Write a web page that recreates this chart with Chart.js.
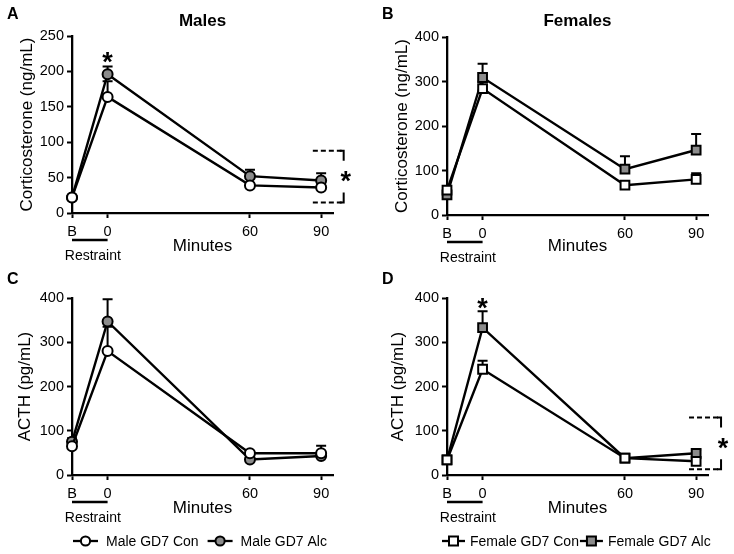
<!DOCTYPE html>
<html lang="en">
<head>
<meta charset="UTF-8">
<title>Corticosterone and ACTH after restraint</title>
<script src="https://cdn.jsdelivr.net/npm/chart.js@4.4.1/dist/chart.umd.min.js"></script>
<style>
  body { margin: 0; background: #fff; }
  #wrap { position: relative; width: 734px; height: 554px; }
  canvas { position: absolute; }
</style>
</head>
<body>
<div id="wrap">
  <canvas id="chartA" width="367" height="270" style="left:0;top:0"></canvas>
  <canvas id="chartB" width="367" height="270" style="left:367px;top:0"></canvas>
  <canvas id="chartC" width="367" height="284" style="left:0;top:270px"></canvas>
  <canvas id="chartD" width="367" height="284" style="left:367px;top:270px"></canvas>
</div>

<script>
  const FONT = 'Arial, "Liberation Sans", sans-serif';

  // time points, B = baseline before restraint
  const minutes = [-15, 0, 60, 90];
  const xTickLabels = ['B', '0', '60', '90'];
  const restraintSpan = [-15, 0];

  // corticosterone (ng/mL), males
  const maleCortCon = [22, 164, 39, 36];
  const maleCortConSem = [3, 22, 3, 3];
  const maleCortAlc = [22, 196, 52, 46];
  const maleCortAlcSem = [3, 11, 9, 10];

  // corticosterone (ng/mL), females
  const femCortCon = [56, 284, 67, 80];
  const femCortConSem = [6, 16, 8, 14];
  const femCortAlc = [45, 309, 103, 146];
  const femCortAlcSem = [5, 31, 29, 36];

  // ACTH (pg/mL), males
  const maleActhCon = [65, 280, 49, 49];
  const maleActhConSem = [10, 55, 5, 17];
  const maleActhAlc = [75, 347, 35, 43];
  const maleActhAlcSem = [8, 50, 4, 5];

  // ACTH (pg/mL), females
  const femActhCon = [34, 239, 38, 31];
  const femActhConSem = [4, 19, 4, 6];
  const femActhAlc = [34, 333, 38, 49];
  const femActhAlcSem = [5, 37, 5, 8];

  // significance marks
  const starsA = [{ x: 0, y: 220 }];
  const starsD = [{ x: 0, y: 388 }];
  const bracketA = { x0: 86.5, x1: 99.5, lo: 15, hi: 88 };
  const bracketD = { x0: 87, x1: 100.5, lo: 13, hi: 130 };

  const GREY = '#8c8c8c';

  Chart.defaults.font.family = FONT;
  Chart.defaults.color = '#000';

  function drawStar(ctx, px, py)
  {
    ctx.font = 'bold 27px ' + FONT;
    ctx.textAlign = 'center';
    ctx.textBaseline = 'alphabetic';
    const m = ctx.measureText('*');
    ctx.fillText('*', px, py + (m.actualBoundingBoxAscent - m.actualBoundingBoxDescent) / 2);
  }

  function drawMarker(ctx, style, cx, cy, fill)
  {
    ctx.beginPath();
    if (style === 'rect') ctx.rect(cx - 4.5, cy - 4.5, 9, 9);
    else ctx.arc(cx, cy, 4.6, 0, Math.PI * 2);
    ctx.fillStyle = fill;
    ctx.fill();
    ctx.lineWidth = 2;
    ctx.stroke();
  }

  const decor = {
    id: 'decor',
    beforeDatasetsDraw(chart)
    {
      const { ctx } = chart;
      const y = chart.scales.y;
      ctx.save();
      ctx.strokeStyle = '#000';
      ctx.lineWidth = 2;
      chart.data.datasets.forEach((ds, i) => {
        const meta = chart.getDatasetMeta(i);
        meta.data.forEach((pt, j) => {
          const top = y.getPixelForValue(ds.data[j].y + ds.sem[j]);
          ctx.beginPath();
          ctx.moveTo(pt.x, pt.y);
          ctx.lineTo(pt.x, top);
          ctx.moveTo(pt.x - 5, top);
          ctx.lineTo(pt.x + 5, top);
          ctx.stroke();
        });
      });
      ctx.restore();
    },
    afterDraw(chart, args, opts)
    {
      const { ctx, chartArea: a } = chart;
      const x = chart.scales.x, y = chart.scales.y;
      ctx.save();
      ctx.fillStyle = '#000';
      ctx.strokeStyle = '#000';

      // panel letter and title
      ctx.font = 'bold 16px ' + FONT;
      ctx.textAlign = 'left';
      ctx.textBaseline = 'middle';
      ctx.fillText(opts.letter, opts.letterX, opts.letterY);
      if (opts.title)
      {
        ctx.font = 'bold 17px ' + FONT;
        ctx.textAlign = 'center';
        ctx.fillText(opts.title, (a.left + a.right) / 2, 21);
      }

      // restraint bar under the axis
      const rx0 = x.getPixelForValue(restraintSpan[0]);
      const rx1 = x.getPixelForValue(restraintSpan[1]);
      ctx.lineWidth = 2.5;
      ctx.beginPath();
      ctx.moveTo(rx0, a.bottom + 27);
      ctx.lineTo(rx1, a.bottom + 27);
      ctx.stroke();
      ctx.font = '14px ' + FONT;
      ctx.textAlign = 'center';
      ctx.textBaseline = 'middle';
      ctx.fillText('Restraint', (rx0 + rx1) / 2 + 3, a.bottom + 43);

      // stars
      (opts.stars || []).forEach(s => drawStar(ctx, x.getPixelForValue(s.x), y.getPixelForValue(s.y)));

      // bracket
      const b = opts.bracket;
      if (b)
      {
        const bx0 = x.getPixelForValue(b.x0), bx1 = x.getPixelForValue(b.x1);
        const yh = y.getPixelForValue(b.hi), yl = y.getPixelForValue(b.lo);
        ctx.lineWidth = 2;
        ctx.setLineDash([5, 3]);
        ctx.beginPath();
        ctx.moveTo(bx0, yh); ctx.lineTo(bx1 - 2, yh);
        ctx.moveTo(bx0, yl); ctx.lineTo(bx1 - 2, yl);
        ctx.stroke();
        ctx.setLineDash([]);
        ctx.beginPath();
        ctx.moveTo(bx1 - 4, yh); ctx.lineTo(bx1, yh); ctx.lineTo(bx1, yh + 10);
        ctx.moveTo(bx1 - 4, yl); ctx.lineTo(bx1, yl); ctx.lineTo(bx1, yl - 10);
        ctx.stroke();
        drawStar(ctx, bx1 + 2, (yh + yl) / 2);
      }

      // legend
      const lg = opts.legend;
      if (lg)
      {
        let lx = lg.x;
        const ly = a.bottom + 66;
        chart.data.datasets.forEach(ds => {
          ctx.strokeStyle = '#000';
          ctx.lineWidth = 2.3;
          ctx.beginPath();
          ctx.moveTo(lx, ly);
          ctx.lineTo(lx + lg.lineLen, ly);
          ctx.stroke();
          drawMarker(ctx, ds.pointStyle, lx + lg.lineLen / 2, ly, ds.pointBackgroundColor);
          const tx = lx + lg.lineLen + lg.textGap;
          ctx.fillStyle = '#000';
          ctx.font = '14px ' + FONT;
          ctx.textAlign = 'left';
          ctx.textBaseline = 'middle';
          ctx.fillText(ds.label, tx, ly + 1);
          lx = tx + ctx.measureText(ds.label).width + lg.itemGap;
        });
      }
      ctx.restore();
    }
  };

  function series(label, vals, sem, style, fill)
  {
    return {
      label: label,
      data: minutes.map((m, i) => ({ x: m, y: vals[i] })),
      sem: sem,
      borderColor: '#000',
      borderWidth: 2.4,
      tension: 0,
      pointStyle: style,
      pointRadius: style === 'rect' ? 6.2 : 5,
      pointBorderWidth: 2,
      pointBorderColor: '#000',
      pointBackgroundColor: fill,
      clip: false
    };
  }

  function makeChart(id, cfg)
  {
    return new Chart(document.getElementById(id), {
      type: 'line',
      data: { datasets: cfg.datasets },
      options: {
        responsive: false,
        animation: false,
        events: [],
        layout: { padding: cfg.padding },
        scales: {
          x: {
            type: 'linear',
            min: -15,
            max: 95,
            afterBuildTicks: s => { s.ticks = minutes.map(v => ({ value: v })); },
            afterFit: s => { s.height = cfg.xHeight; },
            ticks: {
              callback: (v, i) => xTickLabels[i],
              font: { size: 14.5 },
              padding: 5,
              maxRotation: 0,
              autoSkip: false
            },
            grid: { drawOnChartArea: false, tickLength: 5, tickWidth: 2, tickColor: '#000' },
            border: { display: true, color: '#000', width: 2.3 },
            title: { display: true, text: 'Minutes', font: { size: 17 }, padding: { top: 0, bottom: 13 } }
          },
          y: {
            min: 0,
            max: cfg.yMax,
            afterFit: s => { s.width = cfg.yWidth; },
            ticks: { stepSize: cfg.yStep, font: { size: 14.5 }, padding: 3 },
            grid: { drawOnChartArea: false, tickLength: 5, tickWidth: 2, tickColor: '#000' },
            border: { display: true, color: '#000', width: 2.3 },
            title: { display: true, text: cfg.yTitle, font: { size: 17 }, padding: { top: cfg.yTitlePad, bottom: 0 } }
          }
        },
        plugins: {
          legend: { display: false },
          tooltip: { enabled: false },
          decor: cfg.decor
        }
      },
      plugins: [decor]
    });
  }

  makeChart('chartA', {
    datasets: [
      series('Male GD7 Con', maleCortCon, maleCortConSem, 'circle', '#fff'),
      series('Male GD7 Alc', maleCortAlc, maleCortAlcSem, 'circle', GREY)
    ],
    padding: { top: 36, right: 34, left: 0, bottom: 0 },
    xHeight: 57, yWidth: 72, yMax: 250, yStep: 50,
    yTitle: 'Corticosterone (ng/mL)', yTitlePad: 17,
    decor: { letter: 'A', letterX: 7, letterY: 15, title: 'Males', stars: starsA, bracket: bracketA }
  });

  makeChart('chartB', {
    datasets: [
      series('Female GD7 Con', femCortCon, femCortConSem, 'rect', '#fff'),
      series('Female GD7 Alc', femCortAlc, femCortAlcSem, 'rect', GREY)
    ],
    padding: { top: 37, right: 26, left: 0, bottom: 0 },
    xHeight: 55, yWidth: 80, yMax: 400, yStep: 100,
    yTitle: 'Corticosterone (ng/mL)', yTitlePad: 25,
    decor: { letter: 'B', letterX: 15, letterY: 15, title: 'Females' }
  });

  makeChart('chartC', {
    datasets: [
      series('Male GD7 Con', maleActhCon, maleActhConSem, 'circle', '#fff'),
      series('Male GD7 Alc', maleActhAlc, maleActhAlcSem, 'circle', GREY)
    ],
    padding: { top: 28, right: 34, left: 0, bottom: 22 },
    xHeight: 57, yWidth: 72, yMax: 400, yStep: 100,
    yTitle: 'ACTH (pg/mL)', yTitlePad: 15,
    decor: { letter: 'C', letterX: 7, letterY: 10, legend: { x: 73, lineLen: 25, textGap: 8, itemGap: 9 } }
  });

  makeChart('chartD', {
    datasets: [
      series('Female GD7 Con', femActhCon, femActhConSem, 'rect', '#fff'),
      series('Female GD7 Alc', femActhAlc, femActhAlcSem, 'rect', GREY)
    ],
    padding: { top: 28, right: 26, left: 0, bottom: 22 },
    xHeight: 57, yWidth: 80, yMax: 400, yStep: 100,
    yTitle: 'ACTH (pg/mL)', yTitlePad: 21,
    decor: { letter: 'D', letterX: 15, letterY: 10, stars: starsD, bracket: bracketD, legend: { x: 75, lineLen: 23, textGap: 5, itemGap: 1 } }
  });
</script>
</body>
</html>
